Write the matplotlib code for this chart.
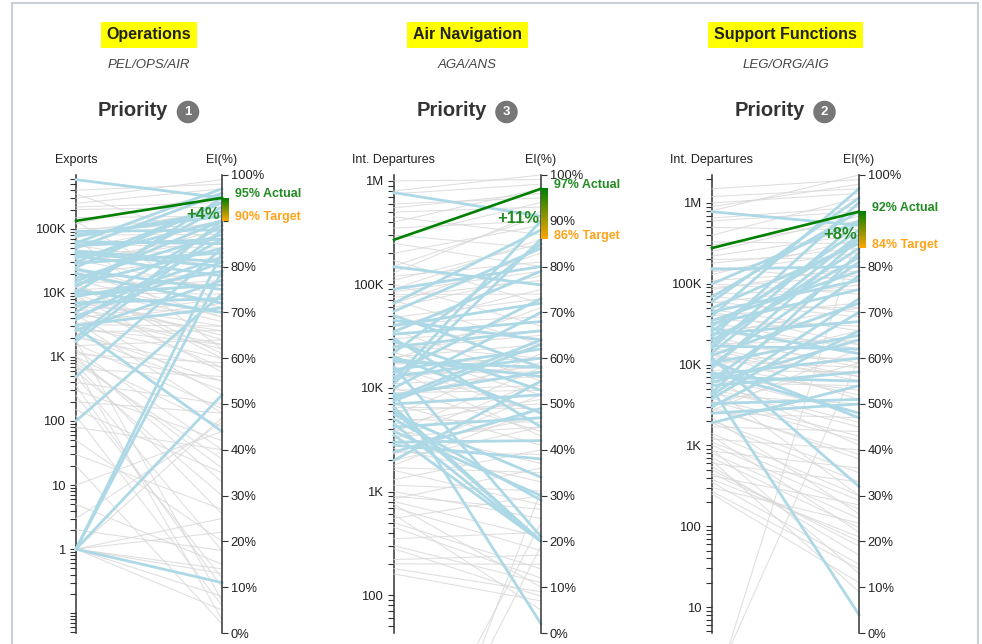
import numpy as np
import matplotlib
matplotlib.use('Agg')
import matplotlib.pyplot as plt
from matplotlib.ticker import LogLocator, FixedLocator, FuncFormatter, NullFormatter
from matplotlib.patches import Rectangle
from matplotlib.colors import LinearSegmentedColormap

plt.rcParams['font.family'] = ['Liberation Sans', 'DejaVu Sans']

# ---- panel texts ----
titles = ['Operations', 'Air Navigation', 'Support Functions']
subtitles = ['PEL/OPS/AIR', 'AGA/ANS', 'LEG/ORG/AIG']
priorities = ['1', '3', '2']
left_titles = ['Exports', 'Int. Departures', 'Int. Departures']

# highlighted state: left value, actual EI, target EI, change label
green_left = [133000, 270000, 277000]
actual = [95, 97, 92]
target = [90, 86, 84]
deltas = ['+4%', '+11%', '+8%']

# ---- Operations (Exports vs EI%) ----
gray1_left = [400000, 300000, 250000, 200000, 150000, 120000, 100000, 80000, 60000, 50000,
              40000, 30000, 25000, 20000, 15000, 12000, 10000, 8000, 6000, 5000,
              4000, 3000, 2500, 2000, 1500, 1200, 1000, 800, 600, 400,
              300, 200, 150, 50, 30, 10, 5, 1, 1, 1,
              1, 1, 1, 1, 70000, 9000, 3500, 1800, 700, 250,
              18000, 5500, 45000, 13000, 2200, 900, 350000, 130000,
              7000, 2800, 16000, 1100, 3300, 650,
              220000, 90000, 55000, 33000, 21000, 14000, 9500, 6500, 4500, 3200,
              2400, 1600, 1300, 1000, 750, 500, 350, 120, 80, 20,
              3, 2, 28000, 11000, 4800]
gray1_right = [98, 99, 97, 93, 91, 96, 89, 87, 84, 90,
               78, 86, 71, 82, 76, 68, 74, 65, 70, 62,
               73, 60, 66, 58, 64, 55, 45, 38, 30, 50,
               42, 48, 35, 20, 27, 44, 15, 25, 14, 13,
               22, 8, 5, 47, 62, 57, 48, 7, 3, 12,
               78, 66, 83, 60, 53, 36, 85, 72,
               67, 63, 69, 59, 72, 56,
               94, 92, 80, 75, 69, 61, 64, 58, 52, 67,
               55, 49, 40, 33, 26, 18, 10, 6, 40, 2,
               46, 18, 88, 77, 63]
blue1_left = [585000, 91000, 76000, 63000, 50000, 42000, 35000, 29000, 23000, 17000,
              12600, 8800, 6100, 3800, 2600, 1750, 490, 100, 1, 1,
              1, 1, 2900, 20000, 15000, 10000, 45000, 7000, 5000, 30000,
              11000, 80000, 55000, 38000, 25000, 13500, 9500, 4300, 3100, 2000,
              60000]
blue1_right = [95, 88, 92, 85, 96, 80, 90, 83, 75, 87,
               93, 79, 82, 86, 77, 88, 84, 74, 83, 79,
               52, 11, 44, 72, 90, 95, 81, 73, 89, 94,
               70, 91, 86, 78, 94, 84, 76, 81, 71, 90,
               97]

# ---- Air Navigation (Int. Departures vs EI%) ----
gray2_left = [1000000, 800000, 600000, 500000, 450000, 400000, 350000, 300000, 250000, 200000,
              170000, 120000, 100000, 90000, 80000, 70000, 60000, 50000, 42000, 36000,
              30000, 26000, 22000, 19000, 16000, 14000, 12000, 10000, 9000, 8000,
              7000, 6000, 5000, 4000, 3200, 2600, 2000, 1600, 1300, 1000,
              850, 700, 550, 450, 350, 280, 200, 160, 1, 0.2,
              130000, 65000, 24000, 3700, 1800, 750,
              11000, 5500, 2300, 40000, 900, 15000, 600, 2800,
              750000, 550000, 280000, 150000, 110000, 75000, 48000, 33000, 20000, 13000,
              9500, 6500, 4500, 3400, 2400, 1700, 1150, 800, 500, 300,
              220, 180, 0.5, 85000, 17000]
gray2_right = [99, 100, 95, 93, 87, 97, 90, 84, 80, 89,
               72, 81, 67, 86, 74, 63, 78, 58, 69, 55,
               66, 60, 52, 71, 48, 57, 62, 44, 53, 59,
               41, 50, 46, 37, 55, 33, 45, 28, 40, 25,
               36, 18, 30, 12, 22, 8, 15, 7, 24, 31,
               92, 83, 65, 58, 49, 10,
               56, 61, 52, 75, 27, 43, 5, 47,
               98, 96, 94, 91, 85, 77, 73, 68, 63, 58,
               54, 49, 51, 45, 39, 35, 31, 21, 14, 11,
               17, 9, 19, 79, 60]
blue2_left = [770000, 148000, 66000, 45000, 35000, 28000, 22000, 18000, 15000, 12000,
              10000, 8500, 7000, 6000, 5000, 4200, 3500, 2800, 2000, 25000,
              16000, 9000, 5500, 4500, 3000, 13000, 40000, 20000, 11000, 7500,
              30000, 90000, 55000, 33000, 19000, 14000, 8000, 6500, 3800, 2400,
              50000]
blue2_right = [91, 76, 88, 64, 79, 53, 85, 58, 62, 90,
               70, 57, 52, 20, 29, 47, 20, 38, 55, 66,
               21, 2, 34, 20, 42, 60, 72, 48, 86, 63,
               45, 80, 84, 68, 56, 73, 64, 20, 30, 49,
               58]

# ---- Support Functions (Int. Departures vs EI%) ----
gray3_left = [1500000, 1000000, 800000, 650000, 500000, 400000, 330000, 250000, 200000, 160000,
              130000, 100000, 85000, 70000, 58000, 48000, 40000, 33000, 27000, 22000,
              18000, 15000, 12000, 10000, 8500, 7000, 6000, 5000, 4200, 3500,
              3000, 2500, 2000, 1700, 1400, 1200, 1000, 850, 700, 600,
              500, 420, 350, 300, 250, 0.7, 1, 180000, 90000, 45000,
              16000, 6500, 2200, 900, 380,
              9500, 3200, 24000, 1300, 650, 14000, 5200, 2700,
              1200000, 900000, 600000, 300000, 220000, 140000, 110000, 75000, 52000, 36000,
              25000, 19000, 13000, 8000, 5500, 3800, 2800, 1900, 1100, 800,
              550, 450, 270, 60000, 11000]
gray3_right = [99, 96, 100, 93, 88, 95, 85, 91, 82, 77,
               86, 74, 80, 70, 76, 66, 72, 62, 68, 58,
               64, 55, 60, 52, 57, 48, 54, 45, 50, 42,
               38, 47, 35, 44, 30, 40, 27, 36, 23, 33,
               19, 28, 15, 24, 11, 88, 60, 84, 78, 63,
               56, 41, 26, 13, 21,
               66, 59, 71, 22, 9, 51, 30, 62,
               97, 98, 92, 90, 87, 83, 79, 75, 71, 67,
               63, 59, 56, 53, 46, 43, 39, 33, 29, 25,
               17, 20, 14, 69, 58]
blue3_left = [780000, 152000, 69000, 50000, 40000, 32000, 26000, 20000, 16000, 13000,
              10500, 9000, 7500, 6500, 5500, 4500, 3800, 3300, 1900, 12000,
              5000, 22000, 8000, 35000, 6000, 14000, 28000, 11000, 4200, 18000,
              100000, 60000, 45000, 30000, 24000, 17000, 10000, 7000, 3000, 2500]
blue3_right = [89, 80, 92, 85, 97, 75, 88, 82, 90, 72,
               65, 86, 60, 78, 57, 83, 70, 51, 54, 32,
               4, 94, 48, 79, 64, 87, 61, 47, 73, 84,
               90, 95, 77, 86, 68, 62, 81, 55, 66, 50]

panels = [(gray1_left, gray1_right, blue1_left, blue1_right),
          (gray2_left, gray2_right, blue2_left, blue2_right),
          (gray3_left, gray3_right, blue3_left, blue3_right)]

# ---- layout (pixels) ----
W, H = 982, 644
axis_px = [(76, 222), (394, 541), (712, 859)]
left_lims = [(0.049, 692000), (43, 1140000), (4.77, 2220000)]
hide_pct = [{90}, set(), {90}]
top_px, bot_px = 175, 633


def fx(px):
    return px / W


def fy(py):
    return 1 - py / H


def kfmt(v, pos):
    if v < 1:
        return ''
    if v >= 1e6:
        return f'{v / 1e6:g}M'
    if v >= 1e3:
        return f'{v / 1e3:g}K'
    return f'{v:g}'


def to_right(ax, ax2, vals):
    # map left (log) values onto the right axis' data coordinates
    pts = np.column_stack([np.zeros(len(vals)), vals])
    disp = ax.transData.transform(pts)
    return ax2.transData.inverted().transform(disp)[:, 1]


fig = plt.figure(figsize=(W / 100, H / 100), dpi=100)
fig.patches.append(Rectangle((fx(12), fy(700)), fx(978) - fx(12), fy(3) - fy(700),
                             transform=fig.transFigure, fill=False, ec='#c8d0d5', lw=1.5))

cmap = LinearSegmentedColormap.from_list('actual_target', ['#008000', '#ffa500'])
axis_col = '#333333'

for i in range(3):
    x0, x1 = axis_px[i]
    cx = (x0 + x1) / 2

    # headers
    fig.text(fx(cx), fy(35), titles[i], ha='center', va='center', fontsize=11.5,
             fontweight='bold', color='#222222',
             bbox=dict(boxstyle='square,pad=0.35', fc='#ffff00', ec='none'))
    fig.text(fx(cx), fy(65), subtitles[i], ha='center', va='center', fontsize=9.5,
             style='italic', color='#444444')
    fig.text(fx(cx + 19), fy(111), 'Priority', ha='right', va='center', fontsize=14.5,
             fontweight='bold', color='#333333')
    fig.text(fx(cx + 39), fy(112), priorities[i], ha='center', va='center', fontsize=9.5,
             fontweight='bold', color='white',
             bbox=dict(boxstyle='circle,pad=0.4', fc='#777777', ec='none'))
    fig.text(fx(x0), fy(160), left_titles[i], ha='center', va='center', fontsize=9,
             color='#222222')
    fig.text(fx(x1), fy(160), 'EI(%)', ha='center', va='center', fontsize=9,
             color='#222222')

    ax = fig.add_axes([fx(x0), fy(bot_px), fx(x1) - fx(x0), fy(top_px) - fy(bot_px)])
    ax.set_yscale('log')
    ax.set_ylim(*left_lims[i])
    ax.set_xlim(0, 1)
    ax.patch.set_visible(False)
    ax2 = ax.twinx()
    ax2.set_ylim(0, 100)
    ax2.patch.set_visible(False)
    ax.set_xticks([])

    for a in (ax, ax2):
        for s in a.spines.values():
            s.set_visible(False)
    ax.spines['left'].set_visible(True)
    ax2.spines['right'].set_visible(True)
    for s in (ax.spines['left'], ax2.spines['right']):
        s.set_color(axis_col)
        s.set_linewidth(1.1)

    ax.yaxis.set_major_locator(LogLocator(base=10, numticks=15))
    ax.yaxis.set_minor_locator(LogLocator(base=10, subs=np.arange(2, 10), numticks=15))
    ax.yaxis.set_major_formatter(FuncFormatter(kfmt))
    ax.yaxis.set_minor_formatter(NullFormatter())
    ax.tick_params(axis='y', which='both', direction='out', length=4.3, width=0.8,
                   color=axis_col, labelsize=9.4, labelcolor='#222222', pad=3.5)

    ax2.yaxis.set_major_locator(FixedLocator(range(0, 101, 10)))
    ax2.yaxis.set_major_formatter(FuncFormatter(
        lambda v, p, hide=hide_pct[i]: '' if round(v) in hide else f'{v:.0f}%'))
    ax2.tick_params(axis='y', which='major', direction='out', length=4.3, width=0.8,
                    color=axis_col, labelsize=9.3, labelcolor='#222222', pad=2)

    gl, gr, bl, br = panels[i]
    for yl, yr in zip(to_right(ax, ax2, gl), gr, strict=True):
        ax2.plot([0, 1], [yl, yr], color='#d9d9d9', lw=0.75, alpha=0.85,
                 clip_on=False, zorder=1)
    for yl, yr in zip(to_right(ax, ax2, bl), br, strict=True):
        ax2.plot([0, 1], [yl, yr], color='#add8e6', lw=2.0, clip_on=False, zorder=2)
    gy = to_right(ax, ax2, [green_left[i]])[0]
    ax2.plot([0, 1], [gy, actual[i]], color='#008000', lw=1.9, clip_on=False, zorder=3)

    # actual -> target gradient bar
    grad = np.linspace(0, 1, 60).reshape(-1, 1)
    ax2.imshow(grad, extent=(1.0, 1.045, target[i], actual[i]), aspect='auto',
               cmap=cmap, origin='upper', clip_on=False, zorder=4)
    ax.set_xlim(0, 1)
    ax2.set_ylim(0, 100)

    ax2.annotate(deltas[i], xy=(1, (actual[i] + target[i]) / 2), xytext=(-1.5, -3.5),
                 textcoords='offset points', ha='right', va='center', fontsize=12,
                 fontweight='bold', color='#228b22', zorder=5)
    ax2.annotate(f'{actual[i]}% Actual', xy=(1, actual[i]), xytext=(9.5, 2.5),
                 textcoords='offset points', ha='left', va='center', fontsize=9,
                 fontweight='bold', color='#228b22', annotation_clip=False)
    ax2.annotate(f'{target[i]}% Target', xy=(1, target[i]), xytext=(9.5, 2.5),
                 textcoords='offset points', ha='left', va='center', fontsize=9,
                 fontweight='bold', color='#ffa31a', annotation_clip=False)

fig.savefig('out.png', dpi=100)
